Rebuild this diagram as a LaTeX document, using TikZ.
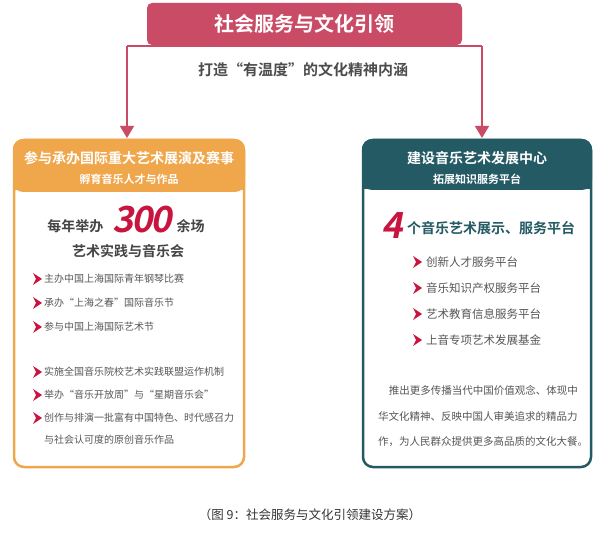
\documentclass[tikz,border=0pt]{standalone}
\usepackage{fontspec}
\setmainfont{Noto Sans CJK SC}
\newfontfamily\cjkb{Noto Sans CJK SC Bold}
\usetikzlibrary{arrows.meta}
\definecolor{crim}{HTML}{C94B66}
\definecolor{org}{HTML}{F0A64A}
\definecolor{teal}{HTML}{245A64}
\definecolor{red3}{HTML}{C8143F}
\definecolor{txt}{HTML}{555555}
\tikzset{
  boxout/.style={draw=#1,line width=2.5pt,rounded corners=10pt},
  item/.style={anchor=west,font=\fontsize{10}{12}\selectfont,text=txt,inner sep=0pt},
  ritem/.style={anchor=west,font=\fontsize{11.5}{13}\selectfont,text=txt,inner sep=0pt},
  para/.style={inner sep=0pt,font=\fontsize{10.5}{12}\selectfont,text=txt},
  conn/.style={draw=crim,line width=1.3pt,-{Triangle[width=14pt,length=12pt]}},
}
\newcommand{\chev}[2]{\fill[red3] (#1-4,#2-6) -- (#1+5,#2) -- (#1-4,#2+6) -- (#1-1,#2) -- cycle;}
\begin{document}
\begin{tikzpicture}[x=1pt,y=-1pt]
\useasboundingbox (0,0) rectangle (600,537);
% top
\fill[crim,rounded corners=5pt] (147,3) rectangle (462,45);
\node[font=\cjkb\fontsize{20}{22}\selectfont,text=white] (top) at (304.5,24) {社会服务与文化引领};
\node[font=\cjkb\fontsize{15}{17}\selectfont,text=txt!90!black] (sub) at (303,70) {打造“有温度”的文化精神内涵};
\coordinate (lt) at (127,46);
\coordinate (rt) at (482,46);
% left box
\fill[org,rounded corners=10pt] (13,139) rectangle (245,192);
\fill[org] (13,170) rectangle (245,190);
\draw[boxout=org] (14,140) rectangle (244,467);
\node[font=\cjkb\fontsize{14}{16}\selectfont,text=white] (lh) at (129,158) {参与承办国际重大艺术展演及赛事};
\node[font=\cjkb\fontsize{11}{13}\selectfont,text=white] (lh2) at (129,179) {孵育音乐人才与作品};
% right box
\fill[teal,rounded corners=10pt] (362,139) rectangle (592,190);
\fill[teal] (362,170) rectangle (592,189);
\draw[boxout=teal] (363,140) rectangle (591,467);
\node[font=\cjkb\fontsize{14}{16}\selectfont,text=white] (rh) at (477,158) {建设音乐艺术发展中心};
\node[font=\cjkb\fontsize{11}{13}\selectfont,text=white] (rh2) at (477,179) {拓展知识服务平台};
% connectors
\draw[draw=crim,line width=1.3pt] (lt) -- (rt);
\draw[conn] (lt) -- (127,138);
\draw[conn] (rt) -- (482,138);
% left content
\node[font=\cjkb\fontsize{14}{16}\selectfont,text=txt!80!black,anchor=east] (n1) at (107,226) {每年举办};
\node[font=\cjkb\fontsize{36}{38}\selectfont,text=red3,inner sep=0pt] (n300) at (142,220) {\addfontfeature{FakeSlant=0.2,LetterSpace=-6}300};
\node[font=\cjkb\fontsize{14}{16}\selectfont,text=txt!80!black,anchor=west] (n2) at (173,226) {余场};
\node[font=\cjkb\fontsize{14}{16}\selectfont,text=txt!80!black] (n3) at (128,251) {艺术实践与音乐会};
\chev{37}{279}\node[item] (a1) at (44,279) {主办中国上海国际青年钢琴比赛};
\chev{37}{303}\node[item] (a2) at (44,303) {承办“上海之春”国际音乐节};
\chev{37}{327}\node[item] (a3) at (44,327) {参与中国上海国际艺术节};
\chev{37}{372}\node[item] (a4) at (44,372) {实施全国音乐院校艺术实践联盟运作机制};
\chev{37}{395}\node[item] (a5) at (44,395) {举办“音乐开放周”与“星期音乐会”};
\chev{37}{418}\node[item] (a6) at (44,418) {创作与排演一批富有中国特色、时代感召力};
\node[item] (a7) at (44,440) {与社会认可度的原创音乐作品};
% right content
\node[font=\cjkb\fontsize{36}{38}\selectfont,text=red3,inner sep=0pt] (n4) at (392,226) {\addfontfeature{FakeSlant=0.2}4};
\node[font=\cjkb\fontsize{14}{16}\selectfont,text=teal,anchor=west,inner sep=0pt] (n5) at (407,228) {个音乐艺术展示、服务平台};
\chev{417}{262}\node[ritem] (b1) at (426,262) {创新人才服务平台};
\chev{417}{288}\node[ritem] (b2) at (426,288) {音乐知识产权服务平台};
\chev{417}{314}\node[ritem] (b3) at (426,314) {艺术教育信息服务平台};
\chev{417}{340}\node[ritem] (b4) at (426,340) {上音专项艺术发展基金};
\node[para,anchor=east] (p1) at (578,390) {推出更多传播当代中国价值观念、体现中};
\node[para,anchor=west] (p2) at (378,416) {华文化精神、反映中国人审美追求的精品力};
\node[para,anchor=west] (p3) at (378,442) {作，为人民群众提供更多高品质的文化大餐。};
% caption
\node[font=\fontsize{12.5}{14}\selectfont,text=black!80] (cap) at (310,515) {（图 9：社会服务与文化引领建设方案）};
\end{tikzpicture}
\end{document}
